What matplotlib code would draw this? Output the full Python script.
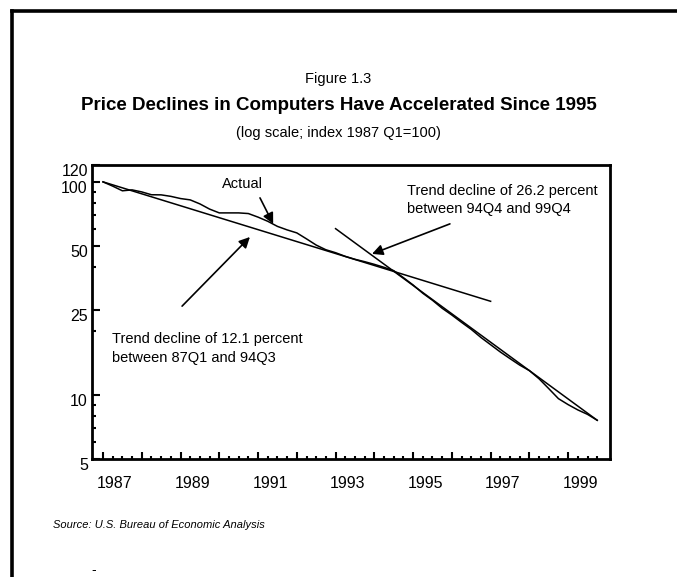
import matplotlib.pyplot as plt
import matplotlib.transforms as mtransforms
from matplotlib.lines import Line2D
from matplotlib.ticker import FixedLocator, NullFormatter

plt.rcParams['font.family'] = ['Liberation Sans', 'DejaVu Sans']

# Квартальные данные 1987Q1 .. 1999Q4 (индекс 1987Q1 = 100)
quarters = [1987 + i * 0.25 for i in range(52)]
actual = [
    100.0, 95.5, 90.8, 91.7, 89.7, 87.0, 86.9, 85.5,   # 1987-1988
    83.5, 82.3, 78.8, 74.5, 71.5, 71.5, 71.5, 71.0,    # 1989-1990
    68.3, 65.3, 61.8, 59.5, 57.6, 54.0, 50.5, 48.0,    # 1991-1992
    46.5, 44.7, 43.3, 42.2, 41.0, 39.7, 38.3, 35.5,    # 1993-1994
    32.8, 30.0, 27.8, 25.5, 23.7, 21.9, 20.3, 18.6,    # 1995-1996
    17.2, 15.9, 14.8, 13.8, 13.0, 11.9, 10.7, 9.6,     # 1997-1998
    9.0, 8.5, 8.1, 7.6,                                # 1999
]

# Линии тренда (прямые на лог. шкале)
trend1_x = [1987.0, 1997.0]
trend1_y = [100.0, 27.5]
trend2_x = [1993.0, 1999.75]
trend2_y = [60.3, 7.6]

year_ticks = list(range(1987, 2000))
year_labels = [str(y) if y % 2 == 1 else "" for y in year_ticks]
y_ticks = [5, 10, 25, 50, 100, 120]
y_minor = [6, 7, 8, 9, 20, 40, 60, 70, 80, 90]

W, H = 677, 577
fig = plt.figure(figsize=(W / 100, H / 100), dpi=100)

# рамка: сверху и слева
fig.add_artist(Line2D([12 / W, 1.0], [1 - 11 / H, 1 - 11 / H], color="black", lw=2.6,
                      transform=fig.transFigure))
fig.add_artist(Line2D([12 / W, 12 / W], [1 - 11 / H, 0.0], color="black", lw=2.6,
                      transform=fig.transFigure))

ax = fig.add_axes([92 / W, 1 - 459 / H, (610 - 92) / W, (459 - 165) / H])
ax.set_yscale("log")

ax.plot(quarters, actual, color="black", lw=1.1)
ax.plot(trend1_x, trend1_y, color="black", lw=1.1)
ax.plot(trend2_x, trend2_y, color="black", lw=1.1)

ax.set_xlim(1986.716, 2000.08)
ax.set_ylim(5, 120)

for s in ax.spines.values():
    s.set_linewidth(2.0)

ax.xaxis.set_major_locator(FixedLocator(year_ticks))
ax.set_xticklabels(year_labels)
ax.xaxis.set_minor_locator(FixedLocator([y + q for y in year_ticks for q in (0.25, 0.5, 0.75)]))
ax.yaxis.set_major_locator(FixedLocator(y_ticks))
ax.set_yticklabels([str(v) for v in y_ticks])
ax.yaxis.set_minor_locator(FixedLocator(y_minor))
ax.yaxis.set_minor_formatter(NullFormatter())

ax.tick_params(axis="x", which="major", direction="in", length=5, width=1.5, pad=12, labelsize=11.5)
ax.tick_params(axis="x", which="minor", direction="in", length=2.5, width=1.5)
ax.tick_params(axis="y", which="major", direction="in", length=6, width=1.5, pad=3, labelsize=11.5)
ax.tick_params(axis="y", which="minor", direction="in", length=3, width=1.5)

dx = mtransforms.ScaledTranslation(0.12, 0, fig.dpi_scale_trans)
for lbl in ax.get_xticklabels():
    lbl.set_transform(lbl.get_transform() + dx)
dy = mtransforms.ScaledTranslation(0, -0.05, fig.dpi_scale_trans)
for lbl in ax.get_yticklabels():
    lbl.set_transform(lbl.get_transform() + dy)

arrow = dict(arrowstyle="-|>", mutation_scale=16, color="black", lw=1.2,
             shrinkA=0, shrinkB=0)

ax.annotate("", xy=(1991.39, 63.5), xytext=(1991.05, 84.1), arrowprops=arrow)
ax.text(1990.61, 97.9, "Actual", ha="center", va="center", fontsize=10.5)

ax.annotate("", xy=(1990.79, 55.1), xytext=(1989.04, 26.1), arrowprops=arrow)
ax.text(1987.23, 16.5, "Trend decline of 12.1 percent\nbetween 87Q1 and 94Q3",
        ha="left", va="center", fontsize=10.5, linespacing=1.4)

ax.annotate("", xy=(1993.94, 45.9), xytext=(1995.95, 63.5), arrowprops=arrow)
ax.text(1994.85, 82.3, "Trend decline of 26.2 percent\nbetween 94Q4 and 99Q4",
        ha="left", va="center", fontsize=10.5, linespacing=1.4)

fig.text(0.5, 1 - 79 / H, "Figure 1.3", ha="center", va="center", fontsize=10.5)
fig.text(0.5, 1 - 106 / H, "Price Declines in Computers Have Accelerated Since 1995",
         ha="center", va="center", fontsize=13.5, fontweight="bold")
fig.text(0.5, 1 - 133 / H, "(log scale; index 1987 Q1=100)", ha="center", va="center",
         fontsize=10.5)
fig.text(53 / W, 1 - 525 / H, "Source: U.S. Bureau of Economic Analysis", ha="left",
         va="center", fontsize=8, style="italic")
fig.text(94 / W, 1 - 570 / H, "-", ha="center", va="center", fontsize=10)

fig.savefig("out.png", dpi=100)
